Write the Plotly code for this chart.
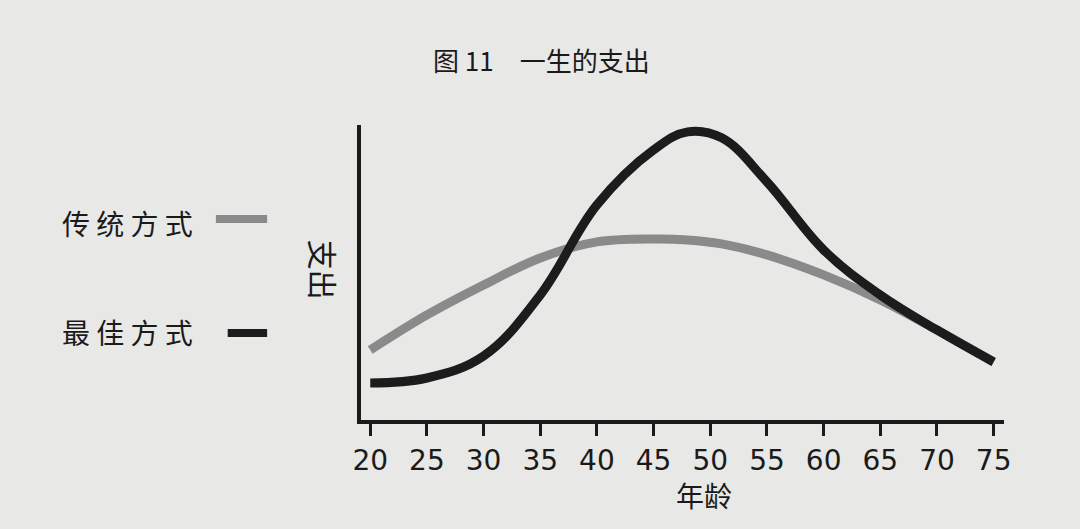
import plotly.graph_objects as go

ages = [20, 25, 30, 35, 40, 45, 48, 51, 55, 60, 65, 70, 75]
traditional = [70, 105, 135, 162, 178, 181, 180, 176, 165, 145, 120, 90, 58]
optimal = [37, 42, 64, 125, 215, 270, 288, 282, 238, 170, 125, 90, 58]
tick_ages = list(range(20, 80, 5))

FONT = "Noto Sans CJK SC"
BG = "#e8e8e6"
INK = "#1a1a1a"

fig = go.Figure()
fig.add_trace(go.Scatter(x=ages, y=traditional, mode="lines",
                         line=dict(color="#8a8a8a", width=9, shape="spline", smoothing=1.0), showlegend=False))
fig.add_trace(go.Scatter(x=ages, y=optimal, mode="lines",
                         line=dict(color="#1c1c1c", width=9, shape="spline", smoothing=1.1), showlegend=False))

fig.update_layout(
    width=1080, height=529,
    paper_bgcolor=BG, plot_bgcolor=BG,
    margin=dict(l=0, r=0, t=0, b=0),
    font=dict(family=FONT, color=INK),
    xaxis=dict(domain=[0.331, 0.935], range=[19.2, 75.9], tickvals=tick_ages, showgrid=False, zeroline=False,
               showline=True, linecolor=INK, linewidth=4, ticks="outside", ticklen=12, tickwidth=3,
               tickcolor=INK, tickfont=dict(size=28, family="DejaVu Sans")),
    yaxis=dict(domain=[0.206, 0.764], range=[0, 295], showgrid=False, zeroline=False, showticklabels=False,
               showline=True, linecolor=INK, linewidth=4),
)


def label(text, x, y, size, anchor="center", angle=0):
    fig.add_annotation(text=text, x=x / 1080, y=1 - y / 529, xref="paper", yref="paper", showarrow=False,
                       xanchor=anchor, yanchor="middle", textangle=angle,
                       font=dict(size=size, family=FONT, color=INK))


label("图 11　一生的支出", 540, 60, 26)
label("年龄", 705, 495, 28)
label("传 统 方 式", 52, 223, 28, anchor="left")
label("最 佳 方 式", 52, 332, 28, anchor="left")
label("支出", 320, 270, 30, angle=90)

fig.add_shape(type="line", xref="paper", yref="paper", x0=210 / 1080, x1=262 / 1080, y0=1 - 219 / 529,
              y1=1 - 219 / 529, line=dict(color="#8a8a8a", width=8))
fig.add_shape(type="line", xref="paper", yref="paper", x0=222 / 1080, x1=262 / 1080, y0=1 - 333 / 529,
              y1=1 - 333 / 529, line=dict(color="#1c1c1c", width=8))

fig.write_html("out.html", config={"displayModeBar": False},
               post_script="document.body.style.margin='0';")
